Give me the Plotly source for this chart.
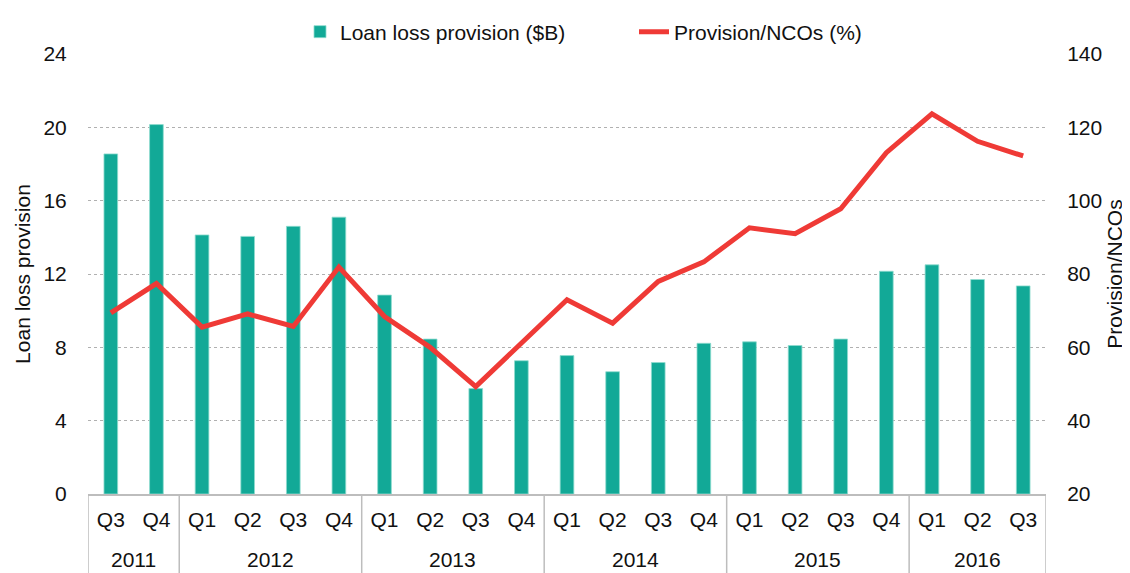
import plotly.graph_objects as go

years = ["2011", "2011",
         "2012", "2012", "2012", "2012",
         "2013", "2013", "2013", "2013",
         "2014", "2014", "2014", "2014",
         "2015", "2015", "2015", "2015",
         "2016", "2016", "2016"]
quarters = ["Q3", "Q4",
            "Q1", "Q2", "Q3", "Q4",
            "Q1", "Q2", "Q3", "Q4",
            "Q1", "Q2", "Q3", "Q4",
            "Q1", "Q2", "Q3", "Q4",
            "Q1", "Q2", "Q3"]
loan_loss_provision = [18.55, 20.15,
                       14.13, 14.05, 14.6, 15.1,
                       10.85, 8.45, 5.75, 7.27,
                       7.55, 6.67, 7.17, 8.22,
                       8.3, 8.1, 8.45, 12.15,
                       12.5, 11.7, 11.35]
provision_ncos = [69.4, 77.4,
                  65.5, 69.1, 65.7, 81.9,
                  68.4, 60.0, 49.3, 61.0,
                  73.0, 66.6, 78.0, 83.3,
                  92.6, 91.0, 97.8, 113.1,
                  123.7, 116.2, 112.2]

left_ticks = [0, 4, 8, 12, 16, 20, 24]
right_ticks = [20, 40, 60, 80, 100, 120, 140]

TEAL = "#12a997"
RED = "#ef3a36"
FONT = "Liberation Sans, Arial, sans-serif"
TXT = "#111111"
FS = 21
AXIS_GREY = "#bdbdbd"

# unique category keys (year + quarter), displayed as the quarter only
cats = [f"{y} {q}" for y, q in zip(years, quarters)]

# year groups derived from the data: boundaries and centres (category index units)
groups = []
start = 0
for i in range(1, len(years) + 1):
    if i == len(years) or years[i] != years[start]:
        groups.append((years[start], start, i - 1))
        start = i
boundaries = [-0.5] + [g[2] + 0.5 for g in groups]

fig = go.Figure()
fig.add_trace(go.Bar(
    x=cats, y=loan_loss_provision,
    name="Loan loss provision ($B)",
    marker=dict(color=TEAL, line=dict(color="#8fdccf", width=0.8)),
    width=0.3,
))
fig.add_trace(go.Scatter(
    x=cats, y=provision_ncos,
    name="Provision/NCOs (%)",
    mode="lines",
    line=dict(color=RED, width=5),
    yaxis="y2",
))

shapes = []
for b in boundaries:
    shapes.append(dict(type="line", xref="x", yref="paper",
                       x0=b, x1=b, y0=0, y1=-0.25,
                       line=dict(color=AXIS_GREY, width=1.5)))

annotations = [dict(text=name, x=(a + b) / 2, xref="x", y=-0.148, yref="paper",
                    yanchor="middle", xanchor="center", showarrow=False,
                    font=dict(size=FS, color=TXT))
               for name, a, b in groups]

fig.update_layout(
    width=1130, height=573,
    margin=dict(l=80, r=92, t=46, b=87, autoexpand=False),
    paper_bgcolor="white",
    plot_bgcolor="white",
    font=dict(family=FONT, size=FS, color=TXT),
    showlegend=True,
    legend=dict(orientation="h", xref="container", yref="container",
                x=292 / 1130, y=1 - 24 / 573, xanchor="left", yanchor="middle",
                font=dict(size=FS, color=TXT), bgcolor="rgba(0,0,0,0)",
                entrywidth=289, entrywidthmode="pixels", traceorder="normal"),
    shapes=shapes,
    annotations=annotations,
    xaxis=dict(
        type="category",
        tickvals=cats, ticktext=quarters,
        showline=True, linecolor=AXIS_GREY, linewidth=1.5,
        showgrid=False, zeroline=False,
        ticks="outside", ticklen=6, tickcolor="rgba(0,0,0,0)",
        tickfont=dict(size=FS, color=TXT),
        range=[-0.5, len(cats) - 0.5],
        automargin=False,
    ),
    yaxis=dict(
        range=[0, 24], tickvals=left_ticks,
        showgrid=True, gridcolor="#b0b0b0", griddash="dot", gridwidth=1,
        zeroline=False, showline=False,
        ticks="outside", ticklen=16, tickcolor="rgba(0,0,0,0)",
        tickfont=dict(size=FS, color=TXT),
        title=dict(text="Loan loss provision", font=dict(size=FS, color=TXT), standoff=7),
        automargin=False,
    ),
    yaxis2=dict(
        range=[20, 140], tickvals=right_ticks,
        overlaying="y", side="right",
        showgrid=False, zeroline=False, showline=False,
        ticks="outside", ticklen=16, tickcolor="rgba(0,0,0,0)",
        tickfont=dict(size=FS, color=TXT),
        title=dict(text="Provision/NCOs", font=dict(size=FS, color=TXT), standoff=6),
        automargin=False,
    ),
)

fig.write_html("out.html")
